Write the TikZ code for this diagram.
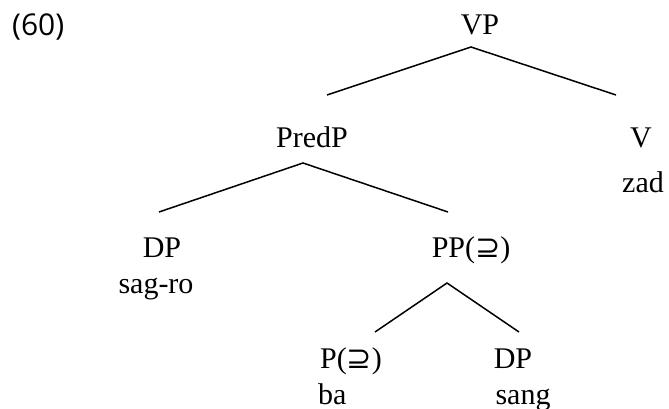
\documentclass[tikz,border=0pt]{standalone}
\usepackage{amsmath}
\usepackage{amssymb}
\usepackage{fontspec}
\setmainfont{Liberation Serif}
\newfontfamily\exfont{Open Sans}
\newfontfamily\symfont{DejaVu Sans}
\newcommand{\supeq}{{\symfont ⊇}}
\usepackage{tikz}

\begin{document}
\begin{tikzpicture}[x=1pt,y=-1pt,cat/.style={anchor=base,inner sep=0pt,font=\fontsize{30}{36}\selectfont},
  branch/.style={line width=1.5pt}]
\useasboundingbox (0,0) rectangle (669,409);
\node[anchor=base west,inner sep=0pt,font=\exfont\fontsize{30}{36}\selectfont] (ex) at (12,36) {(60)};

\node[cat] (VP)    at (480,35)  {VP};
\node[cat] (PredP) at (312,147) {PredP};
\node[cat] (V)     at (641,147) {V};
\node[cat] (zad)   at (643,192) {zad};
\node[cat] (DP_1)  at (162,257) {DP};
\node[cat] (sagro) at (156,293) {sag-ro};
\node[cat] (PP)    at (471,257) {PP(\supeq)};
\node[cat] (P)     at (351,368) {P(\supeq)};
\node[cat,anchor=base west] (ba) at (318,404) {ba};
\node[cat] (DP_2)  at (513,368) {DP};
\node[cat] (sang)  at (523,404) {sang};

% tops and feet of the branches
\coordinate (VP_t)    at (471,47);
\coordinate (PredP_f) at (327,95);
\coordinate (V_f)     at (616,95);
\coordinate (PredP_t) at (303,163);
\coordinate (DP_1_f)  at (159,212);
\coordinate (PP_f)    at (448,212);
\coordinate (PP_t)    at (447,283);
\coordinate (P_f)     at (375,332);
\coordinate (DP_2_f)  at (519,332);

\draw[branch] (PredP_f) -- (VP_t) -- (V_f);
\draw[branch] (DP_1_f) -- (PredP_t) -- (PP_f);
\draw[branch] (P_f) -- (PP_t) -- (DP_2_f);
\end{tikzpicture}
\end{document}
